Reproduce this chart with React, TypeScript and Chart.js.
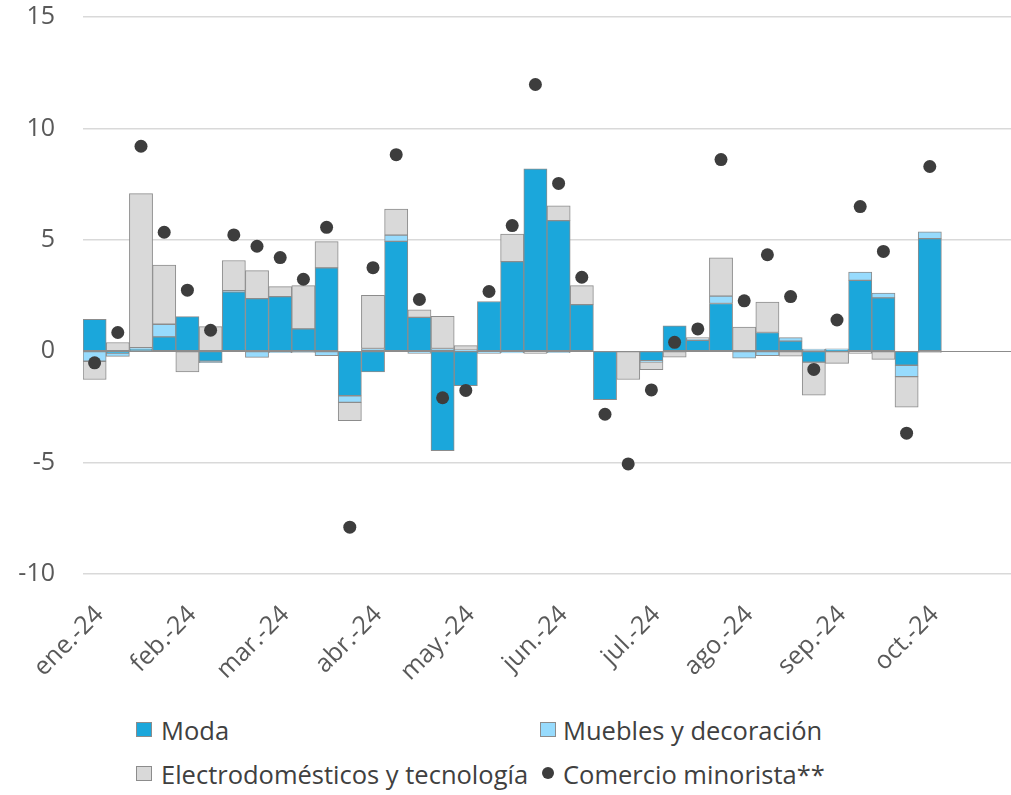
import React, { useEffect, useRef } from "react";
import { Chart, registerables } from "chart.js";

Chart.register(...registerables);

const categories = [
  "ene.-24", "", "", "",
  "feb.-24", "", "", "",
  "mar.-24", "", "", "",
  "abr.-24", "", "", "",
  "may.-24", "", "", "",
  "jun.-24", "", "", "",
  "jul.-24", "", "", "",
  "ago.-24", "", "", "",
  "sep.-24", "", "", "",
  "oct.-24", "", "", "",
];

const moda = [1.43, -0.08, 0.10, 0.64, 1.55, -0.45, 2.66, 2.36, 2.45, 1.00, 3.74, -2.00, -0.93, 4.93, 1.52, -4.47, -1.55, 2.23, 4.02, 8.18, 5.86, 2.09, -2.17, null, -0.43, 1.14, 0.49, 2.14, null, 0.84, 0.45, -0.49, 0.05, 3.18, 2.39, -0.63, 5.05, null, null, null];

const muebles = [-0.45, -0.15, 0.06, 0.57, null, -0.07, 0.06, -0.28, -0.07, -0.05, -0.20, -0.30, 0.12, 0.28, -0.10, 0.12, 0.05, -0.10, -0.08, null, -0.07, null, null, null, -0.05, null, 0.05, 0.33, -0.31, -0.20, 0.16, 0.09, 0.06, 0.37, 0.22, -0.51, 0.31, null, null, null];

const electro = [-0.82, 0.39, 6.91, 2.66, -0.93, 1.10, 1.35, 1.26, 0.45, 1.94, 1.18, -0.82, 2.39, 1.17, 0.34, 1.45, 0.20, null, 1.24, -0.10, 0.67, 0.85, null, -1.27, -0.35, -0.27, 0.07, 1.72, 1.08, 1.36, -0.22, -1.48, -0.55, -0.10, -0.37, -1.37, -0.05, null, null, null];

const comercio = [-0.52, 0.84, 9.20, 5.34, 2.74, 0.94, 5.22, 4.71, 4.20, 3.23, 5.56, -7.90, 3.75, 8.82, 2.32, -2.09, -1.76, 2.68, 5.64, 11.97, 7.53, 3.32, -2.83, -5.06, -1.74, 0.40, 1.00, 8.60, 2.26, 4.33, 2.45, -0.82, 1.40, 6.49, 4.48, -3.68, 8.29, null, null, null];

const seriesNames = ["Moda", "Muebles y decoración", "Electrodomésticos y tecnología", "Comercio minorista**"];

const COLORS = {
  moda: "#1ba7db",
  muebles: "#97dbfd",
  electro: "#d9d9d9",
  border: "#8c8c8c",
  dot: "#3d3d3d",
};

const FONT = "'Open Sans', 'Liberation Sans', sans-serif";
const W = 1011;
const H = 700;
const PLOT_LEFT = 83;
const PLOT_TOP = 17;
const PLOT_BOTTOM = 574;

export default function App() {
  const ref = useRef<HTMLCanvasElement | null>(null);

  useEffect(() => {
    if (!ref.current) return;
    const barDs = (label: string, data: (number | null)[], color: string) => ({
      type: "bar" as const,
      label,
      data,
      backgroundColor: color,
      borderColor: COLORS.border,
      borderWidth: 1,
      borderSkipped: false,
      barPercentage: 1,
      categoryPercentage: 1,
      stack: "s",
      order: 1,
    });
    const chart = new Chart(ref.current, {
      type: "bar",
      data: {
        labels: categories,
        datasets: [
          barDs(seriesNames[0], moda, COLORS.moda),
          barDs(seriesNames[1], muebles, COLORS.muebles),
          barDs(seriesNames[2], electro, COLORS.electro),
          {
            type: "line" as const,
            label: seriesNames[3],
            data: comercio,
            showLine: false,
            pointRadius: 6.5,
            pointHoverRadius: 6.5,
            pointBackgroundColor: COLORS.dot,
            pointBorderWidth: 0,
            borderColor: COLORS.dot,
            order: 0,
          } as any,
        ],
      },
      options: {
        responsive: false,
        animation: false,
        layout: { autoPadding: false, padding: { top: PLOT_TOP, left: 0, right: 0, bottom: 0 } },
        plugins: {
          legend: { display: false },
          tooltip: { enabled: false },
        },
        scales: {
          x: {
            stacked: true,
            grid: { display: false },
            border: { display: false },
            ticks: {
              autoSkip: false,
              maxRotation: 45,
              minRotation: 45,
              padding: 18,
              labelOffset: 5,
              color: "#595959",
              font: { family: FONT, size: 25 },
            },
            afterFit: (s: any) => {
              s.height = H - PLOT_BOTTOM;
              s.paddingLeft = 0;
              s.paddingRight = 0;
            },
          },
          y: {
            stacked: true,
            min: -10,
            max: 15,
            ticks: {
              stepSize: 5,
              padding: 28,
              color: "#595959",
              font: { family: FONT, size: 25 },
            },
            grid: {
              drawTicks: false,
              color: (ctx: any) => (ctx.tick && ctx.tick.value === 0 ? "#8c8c8c" : "#d9d9d9"),
              lineWidth: (ctx: any) => (ctx.tick && ctx.tick.value === 0 ? 1 : 1.5),
            },
            border: { display: false },
            afterFit: (s: any) => {
              s.width = PLOT_LEFT;
              s.paddingTop = 0;
              s.paddingBottom = 0;
            },
          },
        },
      },
    });
    return () => chart.destroy();
  }, []);

  const textStyle: React.CSSProperties = {
    position: "absolute",
    fontFamily: FONT,
    fontSize: 25.5,
    lineHeight: "30px",
    color: "#404040",
    whiteSpace: "nowrap",
  };
  const box = (left: number, top: number, bg: string): React.CSSProperties => ({
    position: "absolute",
    left,
    top,
    width: 16,
    height: 15,
    background: bg,
    border: "1px solid #8c8c8c",
    boxSizing: "border-box",
  });

  return (
    <div style={{ position: "absolute", left: 0, top: 0, width: W, height: 795, background: "#fff" }}>
      <canvas ref={ref} width={W} height={H} style={{ position: "absolute", left: 0, top: 0, width: W, height: H }} />
      <div style={box(136, 722, COLORS.moda)} />
      <div style={{ ...textStyle, left: 161, top: 715 }}>{seriesNames[0]}</div>
      <div style={box(540, 722, COLORS.muebles)} />
      <div style={{ ...textStyle, left: 563, top: 715 }}>{seriesNames[1]}</div>
      <div style={box(136, 766, COLORS.electro)} />
      <div style={{ ...textStyle, left: 161, top: 759 }}>{seriesNames[2]}</div>
      <div
        style={{
          position: "absolute",
          left: 542,
          top: 767,
          width: 12,
          height: 12,
          borderRadius: "50%",
          background: COLORS.dot,
        }}
      />
      <div style={{ ...textStyle, left: 563, top: 759 }}>{seriesNames[3]}</div>
    </div>
  );
}
